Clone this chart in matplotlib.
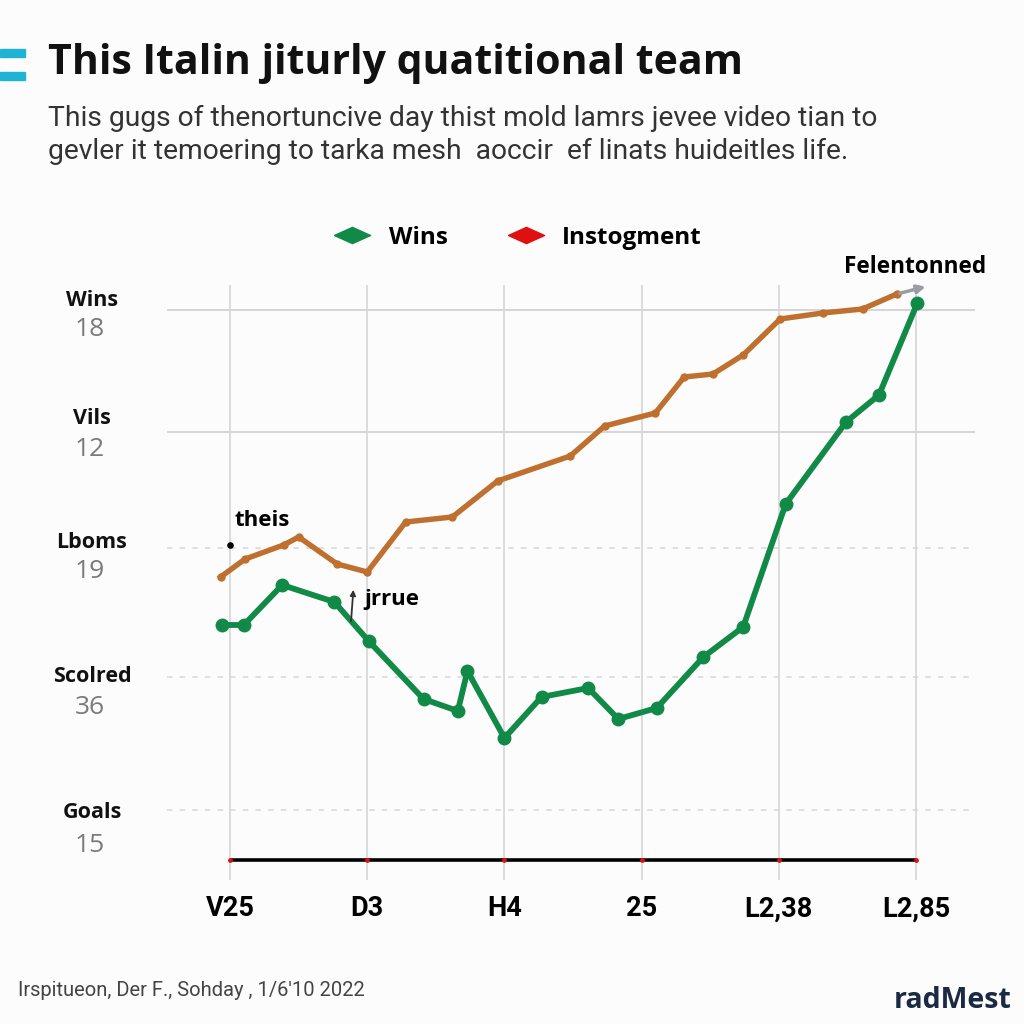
import matplotlib
matplotlib.use("Agg")
import matplotlib.pyplot as plt
from matplotlib import font_manager as fm
from matplotlib.lines import Line2D

names = {f.name for f in fm.fontManager.ttflist}
NARROW = 'Liberation Sans Narrow' if 'Liberation Sans Narrow' in names else 'Roboto'
SANS = 'Open Sans' if 'Open Sans' in names else 'DejaVu Sans'

# ---------------- data ----------------
title = "This Italin jiturly quatitional team"
subtitle = ("This gugs of thenortuncive day thist mold lamrs jevee video tian to\n"
            "gevler it temoering to tarka mesh  aoccir  ef linats huideitles life.")
x_labels = ["V25", "D3", "H4", "25", "L2,38", "L2,85"]
y_names = ["Wins", "Vils", "Lboms", "Scolred", "Goals"]
y_values = ["18", "12", "19", "36", "15"]
y_levels = [55.0, 42.8, 31.2, 18.3, 5.0]

wins_x = [-0.06, 0.10, 0.38, 0.76, 1.01, 1.41, 1.66, 1.73, 2.00, 2.27, 2.61,
          2.83, 3.11, 3.45, 3.74, 4.05, 4.49, 4.73, 5.01]
wins_y = [23.5, 23.5, 27.5, 25.8, 21.9, 16.1, 14.9, 18.9, 12.2, 16.3, 17.2,
          14.1, 15.2, 20.3, 23.3, 35.6, 43.8, 46.5, 55.7]

inst_x = [-0.07, 0.11, 0.39, 0.50, 0.78, 1.00, 1.28, 1.62, 1.95, 2.48, 2.73,
          3.10, 3.31, 3.52, 3.74, 4.01, 4.32, 4.61, 4.86]
inst_y = [28.3, 30.1, 31.5, 32.3, 29.6, 28.8, 33.8, 34.3, 37.9, 40.4, 43.4,
          44.7, 48.3, 48.6, 50.5, 54.1, 54.7, 55.1, 56.6]

GREEN = '#128a47'
ORANGE = '#bf6f2e'
RED = '#e01010'
BG = '#fbfcfb'

W = H = 1024
fig = plt.figure(figsize=(10.24, 10.24), dpi=100, facecolor=BG)

def fx(px):
    return px / W

def fy(py):
    return 1 - py / H

# axes: pixel box x 167..975, y 285..880
ax = fig.add_axes([fx(167), fy(880), (975 - 167) / W, (880 - 285) / H])
ax.set_facecolor(BG)
ax.set_xlim(-0.46, 5.43)
ax.set_ylim(-2.0, 57.5)
for s in ax.spines.values():
    s.set_visible(False)

ax.set_xticks(range(len(x_labels)))
ax.set_xticklabels(x_labels, fontsize=19.5, fontweight='bold', family=NARROW)
ax.tick_params(axis='x', length=0, pad=11)
ax.set_yticks([])
ax.grid(axis='x', color='#d6d6d6', lw=1.2)

# horizontal guide lines
for i, lv in enumerate(y_levels):
    if i < 2:
        ax.axhline(lv, color='#d2d2d2', lw=1.3, zorder=0)
    else:
        ax.axhline(lv, color='#dcdcdc', lw=1.3, ls=(0, (3, 4)), zorder=0)

# baseline
ax.plot([0, 5], [0, 0], color='black', lw=2.6, zorder=3, solid_capstyle='butt')
ax.scatter(range(len(x_labels)), [0] * len(x_labels), color=RED, s=6, zorder=4)

# series
ax.plot(inst_x, inst_y, color=ORANGE, lw=3.9, marker='o', ms=5,
        solid_joinstyle='round', zorder=5)
ax.plot(wins_x, wins_y, color=GREEN, lw=4.2, marker='o', ms=9,
        solid_joinstyle='round', zorder=6)

# arrow at end of orange
ax.annotate('', xy=(5.09, 57.4), xytext=(inst_x[-1], inst_y[-1]),
            arrowprops=dict(arrowstyle='-|>', color='#9a9da3', lw=2.5,
                            mutation_scale=12), annotation_clip=False, zorder=7)

# annotations
ax.text(4.99, 59.3, "Felentonned", fontsize=16.3, fontweight='bold', family=SANS,
        ha='center', va='center', clip_on=False)
ax.text(0.03, 33.9, "theis", fontsize=16, fontweight='bold', family=SANS,
        ha='left', va='center')
ax.scatter([0], [31.5], color='black', s=14, zorder=8)
ax.text(0.98, 26.0, "jrrue", fontsize=16, fontweight='bold', family=SANS,
        ha='left', va='center')
ax.annotate('', xy=(0.9, 27.3), xytext=(0.88, 23.6),
            arrowprops=dict(arrowstyle='-|>', color='#333333', lw=1.3,
                            mutation_scale=8), zorder=8)

# y labels (two-line: name + value)
name_py = [300, 418, 542, 676, 812]
val_py = [330, 450, 572, 708, 846]
for name, val, npy, vpy in zip(y_names, y_values, name_py, val_py):
    fig.text(fx(92), fy(npy), name, fontsize=15.5, fontweight='bold', family=SANS,
             ha='center', va='center', color='#111111')
    fig.text(fx(90), fy(vpy), val, fontsize=19, family=SANS,
             ha='center', va='center', color='#7a7a7a')

# title & subtitle
fig.text(fx(48), fy(63), title, fontsize=29.5, fontweight='bold', family=SANS,
         ha='left', va='center', color='#111111')
fig.text(fx(48), fy(135), subtitle, fontsize=20.3, family=NARROW, ha='left',
         va='center', color='#333333', linespacing=1.25)

# cyan accent bars
for py in (53, 76):
    fig.patches.append(plt.Rectangle((0, fy(py + 4)), fx(25), 8 / H,
                                     transform=fig.transFigure,
                                     color='#20b4d4', zorder=5))

# legend
dia = [(-1, 0), (0, 0.45), (1, 0), (0, -0.45), (-1, 0)]
handles = [Line2D([], [], ls='none', marker=dia, ms=26, color=GREEN),
           Line2D([], [], ls='none', marker=dia, ms=26, color=RED)]
fig.legend(handles, ["Wins", "Instogment"], loc='center',
           bbox_to_anchor=(fx(515), fy(238)), ncol=2, frameon=False,
           prop=dict(family=SANS, weight='bold', size=17.5), columnspacing=2.2,
           handletextpad=0.5)

# footer
fig.text(fx(18), fy(990), "Irspitueon, Der F., Sohday , 1/6'10 2022",
         fontsize=14.5, family=NARROW, ha='left', va='center', color='#444444')
fig.text(fx(1012), fy(1000), "radMest", fontsize=20.5, fontweight='bold',
         family=SANS, ha='right', va='center', color='#1a2a45')

fig.savefig('out.png', dpi=100, facecolor=BG)
